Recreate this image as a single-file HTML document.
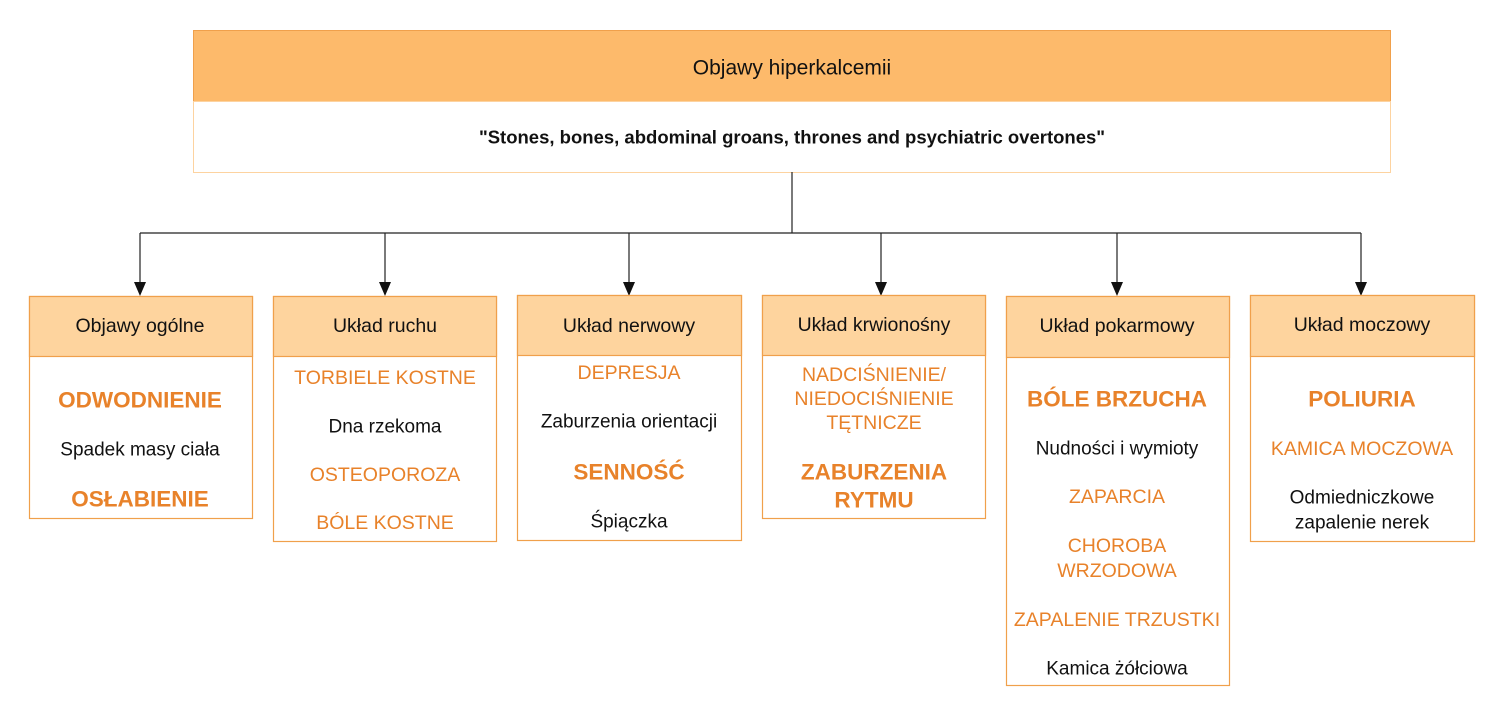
<!DOCTYPE html>
<html><head><meta charset="utf-8"><style>body{margin:0;background:#fff}svg{display:block}text{font-family:"Liberation Sans",sans-serif}</style></head><body>
<svg width="1500" height="718" viewBox="0 0 1500 718" xmlns="http://www.w3.org/2000/svg">
<g stroke="#F0A04B" stroke-width="1">
<rect x="193.5" y="30.5" width="1197" height="71" fill="#FDBA6B"/>
<rect x="193.5" y="101.5" width="1197" height="71" fill="#fff" stroke="#FDD3A0"/>
</g>
<g text-anchor="middle" dominant-baseline="central">
<text x="792" y="68" fill="#111" font-size="21">Objawy hiperkalcemii</text>
<text x="792" y="137" fill="#111" font-weight="bold" font-size="18.5">"Stones, bones, abdominal groans, thrones and psychiatric overtones"</text>
</g>
<g stroke="#222" stroke-width="1.2" fill="none">
<path d="M792 172V233M140 233H1361M140 233V284M385 233V284M629 233V284M881 233V284M1117 233V284M1361 233V284"/>
</g>
<g fill="#111">
<path d="M134 282h12l-6 14zM379 282h12l-6 14zM623 282h12l-6 14zM875 282h12l-6 14zM1111 282h12l-6 14zM1355 282h12l-6 14z"/>
</g>
<g stroke="#F0A04B" stroke-width="1.2" fill="#fff">
<rect x="29.5" y="296.5" width="223" height="222"/><rect x="29.5" y="296.5" width="223" height="60" fill="#FED49E"/>
<rect x="273.5" y="296.5" width="223" height="245"/><rect x="273.5" y="296.5" width="223" height="60" fill="#FED49E"/>
<rect x="517.5" y="295.5" width="224" height="245"/><rect x="517.5" y="295.5" width="224" height="60" fill="#FED49E"/>
<rect x="762.5" y="295.5" width="223" height="223"/><rect x="762.5" y="295.5" width="223" height="60" fill="#FED49E"/>
<rect x="1006.5" y="296.5" width="223" height="389"/><rect x="1006.5" y="296.5" width="223" height="61" fill="#FED49E"/>
<rect x="1250.5" y="295.5" width="224" height="246"/><rect x="1250.5" y="295.5" width="224" height="61" fill="#FED49E"/>
</g>
<g font-size="19.5" text-anchor="middle" dominant-baseline="central" fill="#111">
<text x="140" y="326">Objawy ogólne</text><text x="385" y="326">Układ ruchu</text><text x="629" y="326">Układ nerwowy</text><text x="874" y="325">Układ krwionośny</text><text x="1117" y="326">Układ pokarmowy</text><text x="1362" y="325">Układ moczowy</text>
</g>
<g text-anchor="middle" dominant-baseline="central">
<g fill="#E8822A" font-weight="bold" font-size="22.5">
<text x="140" y="400">ODWODNIENIE</text><text x="140" y="499">OSŁABIENIE</text>
<text x="629" y="472">SENNOŚĆ</text>
<text x="874" y="472">ZABURZENIA</text><text x="874" y="500">RYTMU</text>
<text x="1117" y="399">BÓLE BRZUCHA</text><text x="1362" y="399">POLIURIA</text>
</g>
<g fill="#E8822A" font-size="19.5">
<text x="385" y="378">TORBIELE KOSTNE</text><text x="385" y="475">OSTEOPOROZA</text><text x="385" y="523">BÓLE KOSTNE</text>
<text x="629" y="373">DEPRESJA</text>
<text x="874" y="375">NADCIŚNIENIE/</text><text x="874" y="399">NIEDOCIŚNIENIE</text><text x="874" y="423">TĘTNICZE</text>
<text x="1117" y="497">ZAPARCIA</text><text x="1117" y="546">CHOROBA</text><text x="1117" y="571">WRZODOWA</text><text x="1117" y="620">ZAPALENIE TRZUSTKI</text>
<text x="1362" y="449">KAMICA MOCZOWA</text>
</g>
<g fill="#111" font-size="19">
<text x="140" y="450">Spadek masy ciała</text><text x="385" y="427">Dna rzekoma</text>
<text x="629" y="422">Zaburzenia orientacji</text><text x="629" y="522">Śpiączka</text>
<text x="1117" y="449">Nudności i wymioty</text><text x="1117" y="669">Kamica żółciowa</text>
<text x="1362" y="498">Odmiedniczkowe</text><text x="1362" y="523">zapalenie nerek</text>
</g>
</g>
</svg>
</body></html>
